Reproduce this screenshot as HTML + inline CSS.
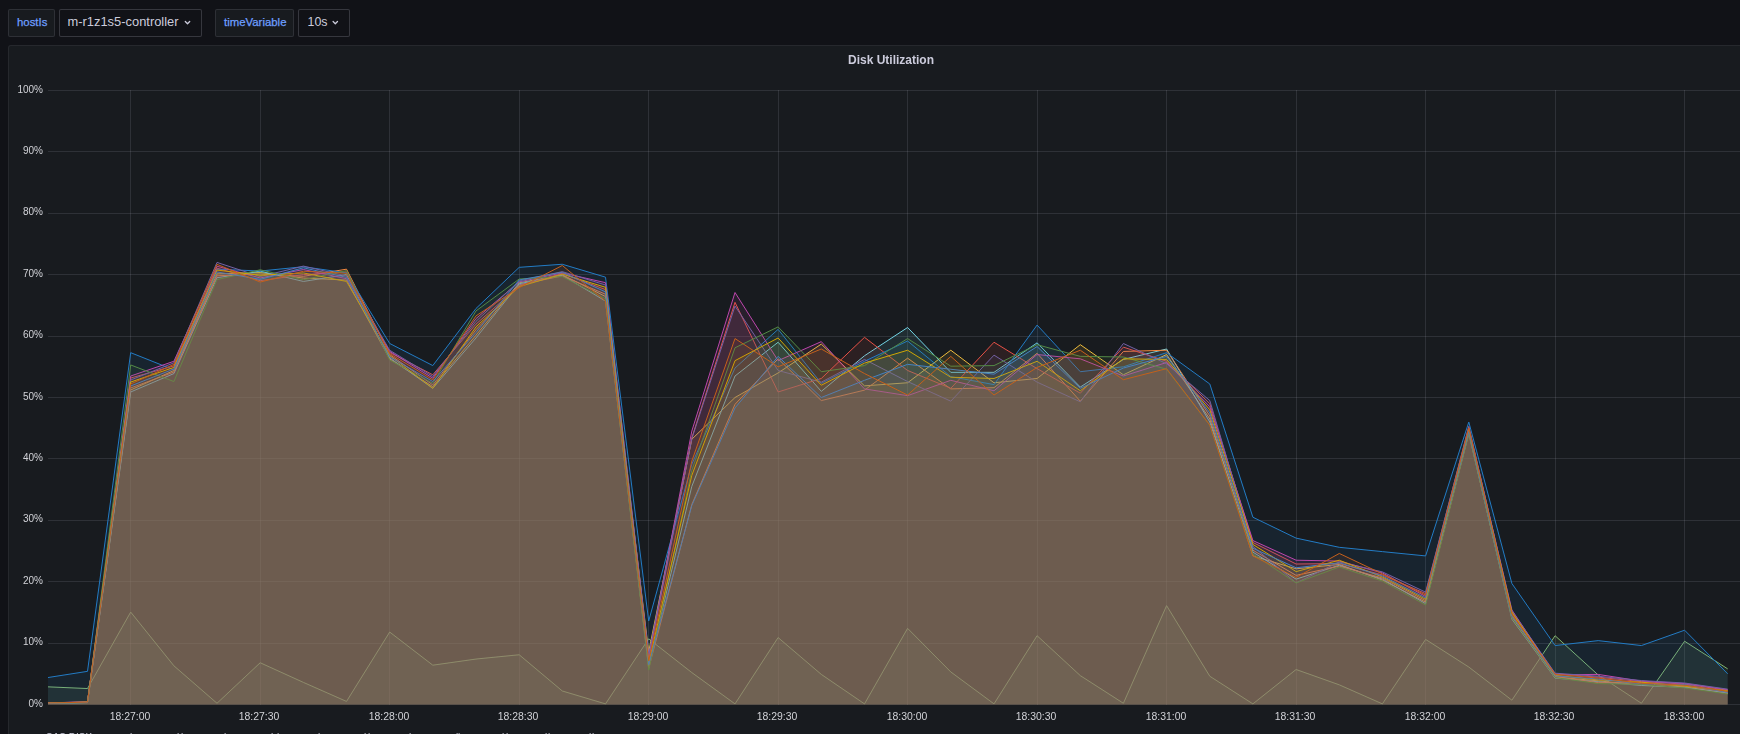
<!DOCTYPE html>
<html><head><meta charset="utf-8">
<style>
html,body{margin:0;padding:0;}
body{width:1740px;height:734px;overflow:hidden;background:#111217;position:relative;font-family:"Liberation Sans",Arial,sans-serif;}
.lbl{position:absolute;top:9px;height:26px;background:#181b1f;border:1px solid rgba(204,204,220,0.12);border-radius:2px;color:#6e9fff;font-size:11.4px;line-height:26px;box-sizing:content-box;-webkit-text-stroke:0.25px #6e9fff;}
.val{position:absolute;top:9px;height:26px;background:#111217;border:1px solid rgba(204,204,220,0.2);border-radius:2px;color:#ccccdc;font-size:12.9px;line-height:26px;}
.chev{position:absolute;top:11px;width:4px;height:4px;border-right:1.2px solid #ccccdc;border-bottom:1.2px solid #ccccdc;transform:rotate(45deg);}
.panel{position:absolute;left:8px;top:45px;width:1766px;height:760px;background:#181b1f;border:1px solid rgba(204,204,220,0.08);border-radius:3px;box-sizing:border-box;}
.title{position:absolute;left:0;top:53px;width:1782px;text-align:center;color:#ccccdc;font-size:12px;font-weight:bold;line-height:14px;}
.yl{position:absolute;left:0;width:43px;text-align:right;font-size:10px;line-height:13px;color:#d2d3d8;}
.xl{position:absolute;top:710px;width:60px;text-align:center;font-size:10.45px;line-height:13px;color:#d2d3d8;}
.leg{position:absolute;top:731.6px;font-size:10px;line-height:12px;color:#ccccdc;white-space:nowrap;}
svg{position:absolute;left:0;top:0;}
.gs{will-change:transform;}
</style></head><body>
<div class="lbl" style="left:8px;width:45px;"><span style="position:absolute;left:8px;top:-1px;">hostIs</span></div>
<div class="val" style="left:59px;width:141px;"><span style="position:absolute;left:7.5px;top:-1px;">m-r1z1s5-controller</span></div>
<div class="lbl" style="left:215px;width:77px;"><span style="position:absolute;left:8px;top:-1px;">timeVariable</span></div>
<div class="val" style="left:298px;width:50px;"><span style="position:absolute;left:8.5px;top:-1px;font-size:12.4px;">10s</span></div>
<svg width="1740" height="40" style="position:absolute;left:0;top:0"><g fill="none" stroke="#ccccdc" stroke-width="1.3" stroke-linecap="round" stroke-linejoin="round"><polyline points="185.3,21.5 187.5,23.7 189.7,21.5"/><polyline points="333.1,21.5 335.3,23.7 337.5,21.5"/></g></svg>
<div class="panel"></div>
<div class="title gs">Disk Utilization</div>
<svg width="1740" height="734" viewBox="0 0 1740 734">
<defs><filter id="fc" filterUnits="userSpaceOnUse" x="0" y="0" width="1740" height="734" color-interpolation-filters="sRGB"><feComponentTransfer><feFuncR type="linear" slope="1" intercept="0.0196"/><feFuncG type="linear" slope="1" intercept="0.0196"/><feFuncB type="linear" slope="1" intercept="0.0196"/></feComponentTransfer></filter><clipPath id="pc"><rect x="48" y="85" width="1700" height="620"/></clipPath></defs>
<g stroke="rgba(204,204,220,0.13)" stroke-width="1" shape-rendering="crispEdges">
<line x1="48" x2="1745" y1="90.50" y2="90.50"/>
<line x1="48" x2="1745" y1="151.90" y2="151.90"/>
<line x1="48" x2="1745" y1="213.30" y2="213.30"/>
<line x1="48" x2="1745" y1="274.70" y2="274.70"/>
<line x1="48" x2="1745" y1="336.10" y2="336.10"/>
<line x1="48" x2="1745" y1="397.50" y2="397.50"/>
<line x1="48" x2="1745" y1="458.90" y2="458.90"/>
<line x1="48" x2="1745" y1="520.30" y2="520.30"/>
<line x1="48" x2="1745" y1="581.70" y2="581.70"/>
<line x1="48" x2="1745" y1="643.10" y2="643.10"/>
<line x1="48" x2="1745" y1="704.50" y2="704.50"/>
<line x1="130.5" x2="130.5" y1="90" y2="704.50"/>
<line x1="260.5" x2="260.5" y1="90" y2="704.50"/>
<line x1="389.5" x2="389.5" y1="90" y2="704.50"/>
<line x1="519.5" x2="519.5" y1="90" y2="704.50"/>
<line x1="648.5" x2="648.5" y1="90" y2="704.50"/>
<line x1="778.5" x2="778.5" y1="90" y2="704.50"/>
<line x1="907.5" x2="907.5" y1="90" y2="704.50"/>
<line x1="1037.5" x2="1037.5" y1="90" y2="704.50"/>
<line x1="1166.5" x2="1166.5" y1="90" y2="704.50"/>
<line x1="1296.5" x2="1296.5" y1="90" y2="704.50"/>
<line x1="1425.5" x2="1425.5" y1="90" y2="704.50"/>
<line x1="1555.5" x2="1555.5" y1="90" y2="704.50"/>
<line x1="1684.5" x2="1684.5" y1="90" y2="704.50"/>
</g>
<g filter="url(#fc)"><g clip-path="url(#pc)">
<path d="M44.4 704.50 L44.4 686.69 L87.5 688.54 L130.7 612.09 L173.9 665.82 L217.0 703.27 L260.2 662.75 L303.4 682.40 L346.5 701.43 L389.7 632.05 L432.8 665.20 L476.0 659.06 L519.2 654.77 L562.3 690.99 L605.5 703.89 L648.7 638.80 L691.8 672.57 L735.0 703.89 L778.1 637.57 L821.3 674.41 L864.5 703.89 L907.6 628.36 L950.8 671.96 L994.0 703.89 L1037.1 635.73 L1080.3 675.64 L1123.4 703.27 L1166.6 605.65 L1209.8 676.26 L1252.9 703.89 L1296.1 669.50 L1339.3 684.85 L1382.4 703.89 L1425.6 639.42 L1468.8 667.05 L1511.9 700.20 L1555.1 635.73 L1598.2 675.03 L1641.4 703.27 L1684.6 641.26 L1727.7 668.89 L1727.7 704.50 Z" fill="#7EB26D" fill-opacity="0.1"/>
<path d="M44.4 686.69 L87.5 688.54 L130.7 612.09 L173.9 665.82 L217.0 703.27 L260.2 662.75 L303.4 682.40 L346.5 701.43 L389.7 632.05 L432.8 665.20 L476.0 659.06 L519.2 654.77 L562.3 690.99 L605.5 703.89 L648.7 638.80 L691.8 672.57 L735.0 703.89 L778.1 637.57 L821.3 674.41 L864.5 703.89 L907.6 628.36 L950.8 671.96 L994.0 703.89 L1037.1 635.73 L1080.3 675.64 L1123.4 703.27 L1166.6 605.65 L1209.8 676.26 L1252.9 703.89 L1296.1 669.50 L1339.3 684.85 L1382.4 703.89 L1425.6 639.42 L1468.8 667.05 L1511.9 700.20 L1555.1 635.73 L1598.2 675.03 L1641.4 703.27 L1684.6 641.26 L1727.7 668.89" fill="none" stroke="#7EB26D" stroke-width="1" stroke-miterlimit="10"/>
<path d="M44.4 704.50 L44.4 703.37 L87.5 702.35 L130.7 389.98 L173.9 370.48 L217.0 273.88 L260.2 272.52 L303.4 278.04 L346.5 280.09 L389.7 358.95 L432.8 386.60 L476.0 335.18 L519.2 282.82 L562.3 274.70 L605.5 296.50 L648.7 651.70 L691.8 439.25 L735.0 397.50 L778.1 372.94 L821.3 344.08 L864.5 385.83 L907.6 382.76 L950.8 350.22 L994.0 382.76 L1037.1 378.47 L1080.3 344.70 L1123.4 374.78 L1166.6 354.52 L1209.8 418.99 L1252.9 555.91 L1296.1 568.81 L1339.3 564.43 L1382.4 580.06 L1425.6 602.17 L1468.8 433.73 L1511.9 617.11 L1555.1 677.01 L1598.2 680.86 L1641.4 684.92 L1684.6 686.83 L1727.7 693.52 L1727.7 704.50 Z" fill="#EAB839" fill-opacity="0.1"/>
<path d="M44.4 703.37 L87.5 702.35 L130.7 389.98 L173.9 370.48 L217.0 273.88 L260.2 272.52 L303.4 278.04 L346.5 280.09 L389.7 358.95 L432.8 386.60 L476.0 335.18 L519.2 282.82 L562.3 274.70 L605.5 296.50 L648.7 651.70 L691.8 439.25 L735.0 397.50 L778.1 372.94 L821.3 344.08 L864.5 385.83 L907.6 382.76 L950.8 350.22 L994.0 382.76 L1037.1 378.47 L1080.3 344.70 L1123.4 374.78 L1166.6 354.52 L1209.8 418.99 L1252.9 555.91 L1296.1 568.81 L1339.3 564.43 L1382.4 580.06 L1425.6 602.17 L1468.8 433.73 L1511.9 617.11 L1555.1 677.01 L1598.2 680.86 L1641.4 684.92 L1684.6 686.83 L1727.7 693.52" fill="none" stroke="#EAB839" stroke-width="1" stroke-miterlimit="10"/>
<path d="M44.4 704.50 L44.4 703.58 L87.5 702.66 L130.7 391.97 L173.9 373.55 L217.0 277.70 L260.2 271.15 L303.4 281.45 L346.5 274.63 L389.7 357.86 L432.8 388.29 L476.0 337.94 L519.2 283.77 L562.3 275.31 L605.5 301.10 L648.7 666.43 L691.8 486.37 L735.0 376.01 L778.1 342.24 L821.3 391.36 L864.5 355.75 L907.6 327.50 L950.8 372.33 L994.0 372.33 L1037.1 342.85 L1080.3 387.06 L1123.4 359.43 L1166.6 348.99 L1209.8 422.06 L1252.9 552.07 L1296.1 579.14 L1339.3 565.28 L1382.4 579.04 L1425.6 603.60 L1468.8 432.09 L1511.9 619.15 L1555.1 678.10 L1598.2 681.78 L1641.4 685.47 L1684.6 687.38 L1727.7 692.97 L1727.7 704.50 Z" fill="#6ED0E0" fill-opacity="0.1"/>
<path d="M44.4 703.58 L87.5 702.66 L130.7 391.97 L173.9 373.55 L217.0 277.70 L260.2 271.15 L303.4 281.45 L346.5 274.63 L389.7 357.86 L432.8 388.29 L476.0 337.94 L519.2 283.77 L562.3 275.31 L605.5 301.10 L648.7 666.43 L691.8 486.37 L735.0 376.01 L778.1 342.24 L821.3 391.36 L864.5 355.75 L907.6 327.50 L950.8 372.33 L994.0 372.33 L1037.1 342.85 L1080.3 387.06 L1123.4 359.43 L1166.6 348.99 L1209.8 422.06 L1252.9 552.07 L1296.1 579.14 L1339.3 565.28 L1382.4 579.04 L1425.6 603.60 L1468.8 432.09 L1511.9 619.15 L1555.1 678.10 L1598.2 681.78 L1641.4 685.47 L1684.6 687.38 L1727.7 692.97" fill="none" stroke="#6ED0E0" stroke-width="1" stroke-miterlimit="10"/>
<path d="M44.4 704.50 L44.4 703.31 L87.5 702.25 L130.7 387.98 L173.9 372.02 L217.0 275.79 L260.2 273.88 L303.4 276.34 L346.5 269.17 L389.7 354.59 L432.8 384.91 L476.0 329.65 L519.2 284.73 L562.3 275.93 L605.5 294.19 L648.7 668.27 L691.8 504.58 L735.0 404.25 L778.1 358.82 L821.3 400.57 L864.5 390.13 L907.6 358.20 L950.8 388.90 L994.0 387.68 L1037.1 353.29 L1080.3 401.18 L1123.4 351.45 L1166.6 350.22 L1209.8 415.92 L1252.9 550.16 L1296.1 575.36 L1339.3 566.12 L1382.4 578.02 L1425.6 600.73 L1468.8 429.63 L1511.9 615.06 L1555.1 676.46 L1598.2 682.70 L1641.4 682.74 L1684.6 685.74 L1727.7 691.88 L1727.7 704.50 Z" fill="#EF843C" fill-opacity="0.1"/>
<path d="M44.4 703.31 L87.5 702.25 L130.7 387.98 L173.9 372.02 L217.0 275.79 L260.2 273.88 L303.4 276.34 L346.5 269.17 L389.7 354.59 L432.8 384.91 L476.0 329.65 L519.2 284.73 L562.3 275.93 L605.5 294.19 L648.7 668.27 L691.8 504.58 L735.0 404.25 L778.1 358.82 L821.3 400.57 L864.5 390.13 L907.6 358.20 L950.8 388.90 L994.0 387.68 L1037.1 353.29 L1080.3 401.18 L1123.4 351.45 L1166.6 350.22 L1209.8 415.92 L1252.9 550.16 L1296.1 575.36 L1339.3 566.12 L1382.4 578.02 L1425.6 600.73 L1468.8 429.63 L1511.9 615.06 L1555.1 676.46 L1598.2 682.70 L1641.4 682.74 L1684.6 685.74 L1727.7 691.88" fill="none" stroke="#EF843C" stroke-width="1" stroke-miterlimit="10"/>
<path d="M44.4 704.50 L44.4 703.17 L87.5 701.84 L130.7 378.01 L173.9 365.88 L217.0 268.15 L260.2 280.70 L303.4 274.63 L346.5 271.90 L389.7 352.41 L432.8 374.78 L476.0 324.13 L519.2 285.68 L562.3 273.47 L605.5 289.59 L648.7 659.06 L691.8 437.89 L735.0 302.33 L778.1 391.97 L821.3 378.47 L864.5 337.33 L907.6 370.48 L950.8 388.29 L994.0 342.24 L1037.1 368.64 L1080.3 393.20 L1123.4 347.15 L1166.6 361.27 L1209.8 403.64 L1252.9 542.48 L1296.1 564.00 L1339.3 563.59 L1382.4 574.95 L1425.6 593.57 L1468.8 426.36 L1511.9 613.01 L1555.1 673.73 L1598.2 677.18 L1641.4 681.65 L1684.6 684.10 L1727.7 690.24 L1727.7 704.50 Z" fill="#E24D42" fill-opacity="0.1"/>
<path d="M44.4 703.17 L87.5 701.84 L130.7 378.01 L173.9 365.88 L217.0 268.15 L260.2 280.70 L303.4 274.63 L346.5 271.90 L389.7 352.41 L432.8 374.78 L476.0 324.13 L519.2 285.68 L562.3 273.47 L605.5 289.59 L648.7 659.06 L691.8 437.89 L735.0 302.33 L778.1 391.97 L821.3 378.47 L864.5 337.33 L907.6 370.48 L950.8 388.29 L994.0 342.24 L1037.1 368.64 L1080.3 393.20 L1123.4 347.15 L1166.6 361.27 L1209.8 403.64 L1252.9 542.48 L1296.1 564.00 L1339.3 563.59 L1382.4 574.95 L1425.6 593.57 L1468.8 426.36 L1511.9 613.01 L1555.1 673.73 L1598.2 677.18 L1641.4 681.65 L1684.6 684.10 L1727.7 690.24" fill="none" stroke="#E24D42" stroke-width="1" stroke-miterlimit="10"/>
<path d="M44.4 704.50 L44.4 678.10 L87.5 671.34 L130.7 352.68 L173.9 369.87 L217.0 269.17 L260.2 271.02 L303.4 266.72 L346.5 272.86 L389.7 343.47 L432.8 365.57 L476.0 308.47 L519.2 267.33 L562.3 264.26 L605.5 277.16 L648.7 621.00 L691.8 464.16 L735.0 368.03 L778.1 329.35 L821.3 383.38 L864.5 361.27 L907.6 341.01 L950.8 376.62 L994.0 384.61 L1037.1 325.05 L1080.3 371.71 L1123.4 366.80 L1166.6 352.68 L1209.8 383.99 L1252.9 517.23 L1296.1 538.11 L1339.3 547.32 L1382.4 551.61 L1425.6 555.91 L1468.8 422.06 L1511.9 583.54 L1555.1 645.56 L1598.2 640.64 L1641.4 645.56 L1684.6 630.21 L1727.7 673.80 L1727.7 704.50 Z" fill="#1F78C1" fill-opacity="0.1"/>
<path d="M44.4 678.10 L87.5 671.34 L130.7 352.68 L173.9 369.87 L217.0 269.17 L260.2 271.02 L303.4 266.72 L346.5 272.86 L389.7 343.47 L432.8 365.57 L476.0 308.47 L519.2 267.33 L562.3 264.26 L605.5 277.16 L648.7 621.00 L691.8 464.16 L735.0 368.03 L778.1 329.35 L821.3 383.38 L864.5 361.27 L907.6 341.01 L950.8 376.62 L994.0 384.61 L1037.1 325.05 L1080.3 371.71 L1123.4 366.80 L1166.6 352.68 L1209.8 383.99 L1252.9 517.23 L1296.1 538.11 L1339.3 547.32 L1382.4 551.61 L1425.6 555.91 L1468.8 422.06 L1511.9 583.54 L1555.1 645.56 L1598.2 640.64 L1641.4 645.56 L1684.6 630.21 L1727.7 673.80" fill="none" stroke="#1F78C1" stroke-width="1" stroke-miterlimit="10"/>
<path d="M44.4 704.50 L44.4 702.96 L87.5 701.94 L130.7 376.01 L173.9 361.27 L217.0 266.24 L260.2 277.97 L303.4 269.52 L346.5 278.73 L389.7 351.31 L432.8 378.16 L476.0 318.60 L519.2 281.86 L562.3 272.86 L605.5 282.68 L648.7 657.22 L691.8 431.10 L735.0 292.51 L778.1 360.66 L821.3 341.63 L864.5 388.90 L907.6 395.66 L950.8 380.31 L994.0 390.75 L1037.1 354.52 L1080.3 358.82 L1123.4 376.01 L1166.6 362.50 L1209.8 406.71 L1252.9 540.56 L1296.1 560.21 L1339.3 561.05 L1382.4 572.90 L1425.6 596.44 L1468.8 428.81 L1511.9 609.94 L1555.1 674.82 L1598.2 674.41 L1641.4 681.10 L1684.6 683.56 L1727.7 689.70 L1727.7 704.50 Z" fill="#BA43A9" fill-opacity="0.1"/>
<path d="M44.4 702.96 L87.5 701.94 L130.7 376.01 L173.9 361.27 L217.0 266.24 L260.2 277.97 L303.4 269.52 L346.5 278.73 L389.7 351.31 L432.8 378.16 L476.0 318.60 L519.2 281.86 L562.3 272.86 L605.5 282.68 L648.7 657.22 L691.8 431.10 L735.0 292.51 L778.1 360.66 L821.3 341.63 L864.5 388.90 L907.6 395.66 L950.8 380.31 L994.0 390.75 L1037.1 354.52 L1080.3 358.82 L1123.4 376.01 L1166.6 362.50 L1209.8 406.71 L1252.9 540.56 L1296.1 560.21 L1339.3 561.05 L1382.4 572.90 L1425.6 596.44 L1468.8 428.81 L1511.9 609.94 L1555.1 674.82 L1598.2 674.41 L1641.4 681.10 L1684.6 683.56 L1727.7 689.70" fill="none" stroke="#BA43A9" stroke-width="1" stroke-miterlimit="10"/>
<path d="M44.4 704.50 L44.4 703.03 L87.5 701.74 L130.7 380.00 L173.9 362.81 L217.0 262.42 L260.2 276.61 L303.4 266.10 L346.5 276.00 L389.7 350.22 L432.8 376.47 L476.0 321.36 L519.2 280.91 L562.3 271.63 L605.5 284.98 L648.7 655.38 L691.8 438.77 L735.0 306.01 L778.1 370.48 L821.3 382.15 L864.5 359.43 L907.6 381.54 L950.8 401.18 L994.0 355.13 L1037.1 382.15 L1080.3 401.80 L1123.4 343.47 L1166.6 363.73 L1209.8 400.57 L1252.9 546.32 L1296.1 582.93 L1339.3 561.90 L1382.4 571.88 L1425.6 592.14 L1468.8 427.18 L1511.9 610.97 L1555.1 673.19 L1598.2 676.26 L1641.4 680.55 L1684.6 683.01 L1727.7 689.15 L1727.7 704.50 Z" fill="#705DA0" fill-opacity="0.1"/>
<path d="M44.4 703.03 L87.5 701.74 L130.7 380.00 L173.9 362.81 L217.0 262.42 L260.2 276.61 L303.4 266.10 L346.5 276.00 L389.7 350.22 L432.8 376.47 L476.0 321.36 L519.2 280.91 L562.3 271.63 L605.5 284.98 L648.7 655.38 L691.8 438.77 L735.0 306.01 L778.1 370.48 L821.3 382.15 L864.5 359.43 L907.6 381.54 L950.8 401.18 L994.0 355.13 L1037.1 382.15 L1080.3 401.80 L1123.4 343.47 L1166.6 363.73 L1209.8 400.57 L1252.9 546.32 L1296.1 582.93 L1339.3 561.90 L1382.4 571.88 L1425.6 592.14 L1468.8 427.18 L1511.9 610.97 L1555.1 673.19 L1598.2 676.26 L1641.4 680.55 L1684.6 683.01 L1727.7 689.15" fill="none" stroke="#705DA0" stroke-width="1" stroke-miterlimit="10"/>
<path d="M44.4 704.50 L44.4 703.51 L87.5 702.56 L130.7 364.96 L173.9 381.54 L217.0 279.61 L260.2 269.79 L303.4 279.75 L346.5 270.54 L389.7 360.05 L432.8 383.22 L476.0 310.93 L519.2 279.00 L562.3 276.54 L605.5 298.80 L648.7 670.12 L691.8 470.26 L735.0 347.77 L778.1 326.89 L821.3 371.71 L864.5 365.57 L907.6 338.56 L950.8 366.19 L994.0 365.57 L1037.1 344.70 L1080.3 356.36 L1123.4 356.98 L1166.6 369.26 L1209.8 425.13 L1252.9 553.99 L1296.1 582.93 L1339.3 566.96 L1382.4 581.09 L1425.6 605.03 L1468.8 432.91 L1511.9 618.13 L1555.1 677.55 L1598.2 683.62 L1641.4 684.37 L1684.6 687.92 L1727.7 694.06 L1727.7 704.50 Z" fill="#508642" fill-opacity="0.1"/>
<path d="M44.4 703.51 L87.5 702.56 L130.7 364.96 L173.9 381.54 L217.0 279.61 L260.2 269.79 L303.4 279.75 L346.5 270.54 L389.7 360.05 L432.8 383.22 L476.0 310.93 L519.2 279.00 L562.3 276.54 L605.5 298.80 L648.7 670.12 L691.8 470.26 L735.0 347.77 L778.1 326.89 L821.3 371.71 L864.5 365.57 L907.6 338.56 L950.8 366.19 L994.0 365.57 L1037.1 344.70 L1080.3 356.36 L1123.4 356.98 L1166.6 369.26 L1209.8 425.13 L1252.9 553.99 L1296.1 582.93 L1339.3 566.96 L1382.4 581.09 L1425.6 605.03 L1468.8 432.91 L1511.9 618.13 L1555.1 677.55 L1598.2 683.62 L1641.4 684.37 L1684.6 687.92 L1727.7 694.06" fill="none" stroke="#508642" stroke-width="1" stroke-miterlimit="10"/>
<path d="M44.4 704.50 L44.4 703.24 L87.5 702.04 L130.7 382.00 L173.9 367.41 L217.0 270.06 L260.2 275.25 L303.4 272.93 L346.5 281.45 L389.7 355.68 L432.8 388.29 L476.0 326.89 L519.2 286.64 L562.3 274.09 L605.5 287.29 L648.7 662.75 L691.8 475.45 L735.0 360.66 L778.1 337.94 L821.3 385.22 L864.5 363.12 L907.6 350.22 L950.8 377.24 L994.0 378.47 L1037.1 361.27 L1080.3 390.75 L1123.4 358.82 L1166.6 359.43 L1209.8 409.78 L1252.9 544.40 L1296.1 571.57 L1339.3 560.21 L1382.4 576.99 L1425.6 599.30 L1468.8 430.45 L1511.9 611.99 L1555.1 675.37 L1598.2 679.94 L1641.4 682.19 L1684.6 686.28 L1727.7 690.79 L1727.7 704.50 Z" fill="#CCA300" fill-opacity="0.1"/>
<path d="M44.4 703.24 L87.5 702.04 L130.7 382.00 L173.9 367.41 L217.0 270.06 L260.2 275.25 L303.4 272.93 L346.5 281.45 L389.7 355.68 L432.8 388.29 L476.0 326.89 L519.2 286.64 L562.3 274.09 L605.5 287.29 L648.7 662.75 L691.8 475.45 L735.0 360.66 L778.1 337.94 L821.3 385.22 L864.5 363.12 L907.6 350.22 L950.8 377.24 L994.0 378.47 L1037.1 361.27 L1080.3 390.75 L1123.4 358.82 L1166.6 359.43 L1209.8 409.78 L1252.9 544.40 L1296.1 571.57 L1339.3 560.21 L1382.4 576.99 L1425.6 599.30 L1468.8 430.45 L1511.9 611.99 L1555.1 675.37 L1598.2 679.94 L1641.4 682.19 L1684.6 686.28 L1727.7 690.79" fill="none" stroke="#CCA300" stroke-width="1" stroke-miterlimit="10"/>
<path d="M44.4 704.50 L44.4 703.44 L87.5 702.45 L130.7 385.99 L173.9 368.95 L217.0 271.97 L260.2 279.34 L303.4 267.81 L346.5 277.36 L389.7 356.77 L432.8 381.54 L476.0 332.42 L519.2 279.95 L562.3 272.24 L605.5 291.89 L648.7 664.59 L691.8 505.47 L735.0 407.94 L778.1 356.36 L821.3 397.50 L864.5 380.31 L907.6 364.34 L950.8 369.26 L994.0 374.17 L1037.1 346.54 L1080.3 388.29 L1123.4 368.03 L1166.6 356.36 L1209.8 412.85 L1252.9 548.24 L1296.1 567.78 L1339.3 562.74 L1382.4 575.97 L1425.6 597.87 L1468.8 431.27 L1511.9 616.08 L1555.1 675.91 L1598.2 679.02 L1641.4 683.83 L1684.6 684.65 L1727.7 692.42 L1727.7 704.50 Z" fill="#447EBC" fill-opacity="0.1"/>
<path d="M44.4 703.44 L87.5 702.45 L130.7 385.99 L173.9 368.95 L217.0 271.97 L260.2 279.34 L303.4 267.81 L346.5 277.36 L389.7 356.77 L432.8 381.54 L476.0 332.42 L519.2 279.95 L562.3 272.24 L605.5 291.89 L648.7 664.59 L691.8 505.47 L735.0 407.94 L778.1 356.36 L821.3 397.50 L864.5 380.31 L907.6 364.34 L950.8 369.26 L994.0 374.17 L1037.1 346.54 L1080.3 388.29 L1123.4 368.03 L1166.6 356.36 L1209.8 412.85 L1252.9 548.24 L1296.1 567.78 L1339.3 562.74 L1382.4 575.97 L1425.6 597.87 L1468.8 431.27 L1511.9 616.08 L1555.1 675.91 L1598.2 679.02 L1641.4 683.83 L1684.6 684.65 L1727.7 692.42" fill="none" stroke="#447EBC" stroke-width="1" stroke-miterlimit="10"/>
<path d="M44.4 704.50 L44.4 703.10 L87.5 702.15 L130.7 383.99 L173.9 364.34 L217.0 264.33 L260.2 282.07 L303.4 271.22 L346.5 273.27 L389.7 353.50 L432.8 379.85 L476.0 315.84 L519.2 287.59 L562.3 265.49 L605.5 301.10 L648.7 660.91 L691.8 461.05 L735.0 338.56 L778.1 366.80 L821.3 348.99 L864.5 373.55 L907.6 395.04 L950.8 356.36 L994.0 395.04 L1037.1 367.41 L1080.3 350.22 L1123.4 379.69 L1166.6 368.64 L1209.8 425.13 L1252.9 555.91 L1296.1 577.40 L1339.3 553.46 L1382.4 573.92 L1425.6 595.00 L1468.8 428.00 L1511.9 614.04 L1555.1 674.28 L1598.2 678.10 L1641.4 683.28 L1684.6 685.19 L1727.7 691.33 L1727.7 704.50 Z" fill="#C15C17" fill-opacity="0.1"/>
<path d="M44.4 703.10 L87.5 702.15 L130.7 383.99 L173.9 364.34 L217.0 264.33 L260.2 282.07 L303.4 271.22 L346.5 273.27 L389.7 353.50 L432.8 379.85 L476.0 315.84 L519.2 287.59 L562.3 265.49 L605.5 301.10 L648.7 660.91 L691.8 461.05 L735.0 338.56 L778.1 366.80 L821.3 348.99 L864.5 373.55 L907.6 395.04 L950.8 356.36 L994.0 395.04 L1037.1 367.41 L1080.3 350.22 L1123.4 379.69 L1166.6 368.64 L1209.8 425.13 L1252.9 555.91 L1296.1 577.40 L1339.3 553.46 L1382.4 573.92 L1425.6 595.00 L1468.8 428.00 L1511.9 614.04 L1555.1 674.28 L1598.2 678.10 L1641.4 683.28 L1684.6 685.19 L1727.7 691.33" fill="none" stroke="#C15C17" stroke-width="1" stroke-miterlimit="10"/>
</g></g>
</svg>
<div class="yl gs" style="top:82.5px">100%</div>
<div class="yl gs" style="top:143.9px">90%</div>
<div class="yl gs" style="top:205.3px">80%</div>
<div class="yl gs" style="top:266.7px">70%</div>
<div class="yl gs" style="top:328.1px">60%</div>
<div class="yl gs" style="top:389.5px">50%</div>
<div class="yl gs" style="top:450.9px">40%</div>
<div class="yl gs" style="top:512.3px">30%</div>
<div class="yl gs" style="top:573.7px">20%</div>
<div class="yl gs" style="top:635.1px">10%</div>
<div class="yl gs" style="top:696.5px">0%</div>
<div class="xl gs" style="left:99.7px">18:27:00</div>
<div class="xl gs" style="left:229.2px">18:27:30</div>
<div class="xl gs" style="left:358.7px">18:28:00</div>
<div class="xl gs" style="left:488.2px">18:28:30</div>
<div class="xl gs" style="left:617.7px">18:29:00</div>
<div class="xl gs" style="left:747.2px">18:29:30</div>
<div class="xl gs" style="left:876.6px">18:30:00</div>
<div class="xl gs" style="left:1006.1px">18:30:30</div>
<div class="xl gs" style="left:1135.6px">18:31:00</div>
<div class="xl gs" style="left:1265.1px">18:31:30</div>
<div class="xl gs" style="left:1394.6px">18:32:00</div>
<div class="xl gs" style="left:1524.1px">18:32:30</div>
<div class="xl gs" style="left:1653.6px">18:33:00</div>
<div class="leg gs" style="left:46.3px">SAS DISK</div><div class="leg gs" style="left:130.4px">l</div><div class="leg gs" style="left:176.9px">l</div><div class="leg gs" style="left:180.5px">l</div><div class="leg gs" style="left:224.3px">l</div><div class="leg gs" style="left:270.7px">l</div><div class="leg gs" style="left:277.2px">l</div><div class="leg gs" style="left:318.1px">l</div><div class="leg gs" style="left:363.7px">l</div><div class="leg gs" style="left:368.3px">l</div><div class="leg gs" style="left:408.8px">l</div><div class="leg gs" style="left:455.7px">l</div><div class="leg gs" style="left:457.9px">l</div><div class="leg gs" style="left:502.3px">l</div><div class="leg gs" style="left:505.5px">l</div><div class="leg gs" style="left:545.3px">l</div><div class="leg gs" style="left:548.4px">l</div><div class="leg gs" style="left:588.7px">l</div><div class="leg gs" style="left:592.3px">l</div>
</body></html>
